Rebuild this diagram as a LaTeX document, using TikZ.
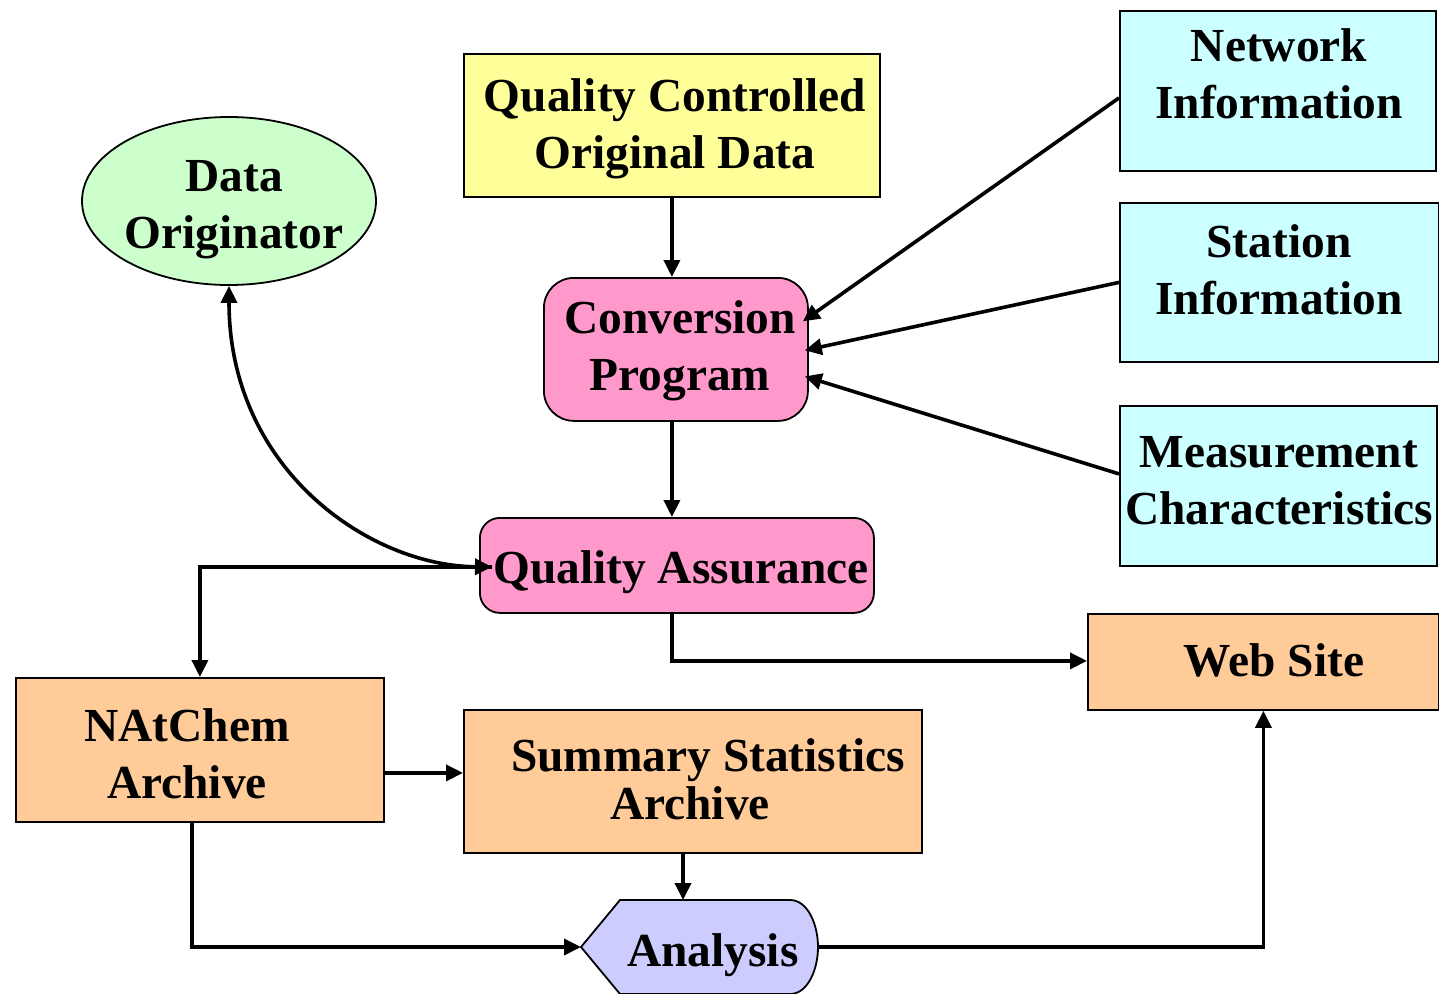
\documentclass[tikz,border=0pt]{standalone}
\usepackage{fontspec}
\setmainfont{Liberation Serif}
\usetikzlibrary{arrows.meta,shapes.geometric,calc}
\definecolor{cyellow}{HTML}{FFFF99}
\definecolor{cgreen}{HTML}{CCFFCC}
\definecolor{ccyan}{HTML}{CCFFFF}
\definecolor{cpink}{HTML}{FF99CC}
\definecolor{corange}{HTML}{FFCC99}
\definecolor{clav}{HTML}{CCCCFF}
\tikzset{
  box/.style={draw=black, line width=1.8pt, inner sep=0pt, anchor=north west},
  txt/.style={font=\fontsize{47.4}{57}\selectfont\bfseries, align=center, inner sep=0pt},
  arr/.style={line width=3.6pt, -{Triangle[length=17pt,width=16pt]}},
  darr/.style={line width=3.6pt, {Triangle[length=17pt,width=16pt]}-{Triangle[length=17pt,width=16pt]}}
}
\begin{document}
\begin{tikzpicture}[x=1pt,y=-1pt]
\useasboundingbox (0,0) rectangle (1439,993);
% boxes
\node[box, fill=cyellow, minimum width=416pt, minimum height=143pt] (qc) at (463,53) {};
\node[draw=black, line width=1.8pt, fill=cgreen, ellipse, minimum width=294pt, minimum height=168pt, inner sep=0pt] (do) at (229,201) {};
\node[box, fill=ccyan, minimum width=316pt, minimum height=160pt] (net) at (1119,10) {};
\node[box, fill=ccyan, minimum width=319pt, minimum height=159pt] (sta) at (1119,202) {};
\node[box, fill=ccyan, minimum width=317pt, minimum height=160pt] (mea) at (1119,405) {};
\node[box, fill=cpink, rounded corners=30pt, minimum width=264pt, minimum height=143pt] (conv) at (543,277) {};
\node[box, fill=cpink, rounded corners=20pt, minimum width=394pt, minimum height=95pt] (qa) at (479,517) {};
\node[box, fill=corange, minimum width=351pt, minimum height=96pt] (web) at (1087,613) {};
\node[box, fill=corange, minimum width=368pt, minimum height=144pt] (nat) at (15,677) {};
\node[box, fill=corange, minimum width=458pt, minimum height=143pt] (sum) at (463,709) {};
% analysis shape
\coordinate (anaW) at (581,947);
\coordinate (anaE) at (818,947);
\coordinate (anaN) at (683,900);
\filldraw[fill=clav, draw=black, line width=1.8pt] (anaW) -- (620,900) -- (790,900)
  .. controls (808,900) and (818,925) .. (anaE)
  .. controls (818,969) and (808,994) .. (790,994) -- (620,994) -- cycle;
% texts
\node[txt] (qcT) at (675,129) {Quality Controlled\\Original Data};
\node[txt] (doT) at (234,210) {Data\\Originator};
\node[txt] (netT) at (1279,74) {Network\\Information};
\node[txt] (staT) at (1279,270) {Station\\Information};
\node[txt] (meaT) at (1279,481) {Measurement\\Characteristics};
\node[txt] (convT) at (680,351) {Conversion\\Program};
\node[txt] (qaT) at (681,572) {Quality Assurance};
\node[txt] (webT) at (1274,660) {Web Site};
\node[txt] (natT) at (187,754) {NAtChem\\Archive};
\node[txt, font=\fontsize{47.4}{48}\selectfont\bfseries] (sumT) at (690,779) {\hspace*{36pt}Summary Statistics\\Archive};
\node[txt] (anaT) at (713,955) {Analysis};
% connectors
\coordinate (qaTip) at ($(qa.west)+(13,1.5)$);
\draw[arr] (qc.south) -- (qc.south |- conv.north);
\draw[arr] ($(net.west)+(0,7)$) -- ($(conv.east)+(-6,-28)$);
\draw[arr] (sta.west) -- ($(conv.east)+(-4,1)$);
\draw[arr] ($(mea.west)+(0,-12)$) -- ($(conv.east)+(-4,27)$);
\draw[arr] (qc.south |- conv.south) -- (qc.south |- qa.north);
\draw[darr] (do.south) .. controls (229,470) and (370,566) .. (qaTip);
\draw[arr] (qaTip) -| (nat.north);
\draw[arr] ($(qa.south)+(-5,0)$) |- ($(web.west)+(0,-1)$);
\draw[arr] ($(nat.east)+(0,23)$) -- ($(sum.west)+(0,-8.5)$);
\draw[arr] (sum.south -| anaN) -- (anaN);
\draw[arr] ($(nat.south)+(-8,0)$) |- (anaW);
\draw[arr] (anaE) -| (web.south);
\end{tikzpicture}
\end{document}
